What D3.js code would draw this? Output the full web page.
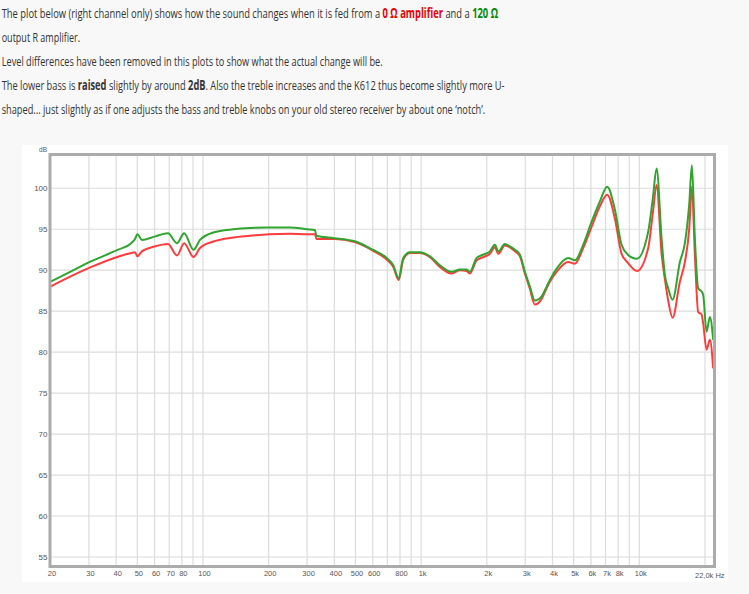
<!DOCTYPE html>
<html>
<head>
<meta charset="utf-8">
<script src="https://cdn.jsdelivr.net/npm/d3@7"></script>
<style>
  html, body { margin: 0; padding: 0; background: #f8f8f8; }
  svg { display: block; }
</style>
</head>
<body>
<svg id="chart" width="749" height="594"></svg>
<script>
// ---- data ----
const freqs = [20, 25, 30.8, 40.8, 46.9, 48.8, 50.0, 52.5, 60, 69.1, 76, 82, 90.5, 96.9, 111.5, 137.6, 164, 200, 250, 300, 326, 331, 400, 500, 600, 695, 745, 789, 828, 888, 987, 1097, 1219, 1380, 1505, 1616, 1673, 1796, 1925, 2066, 2178, 2256, 2421, 2552, 2690, 2836, 2990, 3152, 3323, 3566, 3760, 3892, 4178, 4722, 5068, 5531, 6043, 6598, 7125, 7727, 8296, 8866, 9750, 10986, 11541, 12004, 12652, 13100, 13564, 14210, 15348, 16180, 16932, 17420, 17978, 18618, 19296, 19626, 20338, 21064, 21814];
const green120 = [88.6, 89.9, 91.1, 92.5, 93.3, 93.8, 94.4, 93.7, 94.1, 94.5, 93.3, 94.5, 92.5, 93.7, 94.6, 95.0, 95.15, 95.2, 95.2, 95.0, 94.9, 94.2, 93.9, 93.5, 92.5, 91.5, 90.6, 89.0, 91.5, 92.2, 92.2, 91.7, 90.6, 89.8, 90.1, 90.1, 89.8, 91.5, 91.9, 92.3, 93.1, 92.3, 93.2, 92.9, 92.5, 91.9, 89.8, 88.0, 86.3, 86.8, 88.0, 88.8, 90.2, 91.5, 91.2, 93.1, 95.9, 98.4, 100.2, 97.4, 93.1, 91.9, 91.4, 94.7, 98.8, 102.4, 93.9, 89.4, 87.8, 86.4, 91.0, 93.3, 98.0, 102.8, 93.9, 87.8, 87.4, 87.0, 82.5, 84.3, 81.5];
const red0 = [88.0, 89.3, 90.4, 91.65, 92.1, 92.2, 91.7, 92.3, 92.9, 93.2, 91.8, 93.3, 91.6, 92.7, 93.5, 94.0, 94.2, 94.4, 94.45, 94.4, 94.4, 93.8, 93.8, 93.4, 92.4, 91.3, 90.4, 88.8, 91.3, 92.1, 92.1, 91.6, 90.4, 89.6, 90.0, 89.9, 89.6, 91.2, 91.6, 92.0, 92.8, 92.0, 93.0, 92.8, 92.3, 91.7, 89.6, 87.7, 85.8, 86.5, 87.8, 88.6, 89.8, 91.0, 90.8, 92.7, 95.3, 97.8, 99.2, 96.3, 92.0, 90.9, 89.9, 92.7, 97.0, 100.4, 92.0, 88.9, 86.3, 84.2, 88.6, 91.0, 95.0, 100.2, 91.9, 84.9, 84.6, 83.5, 80.3, 81.5, 78.0];

const yTicks = [55, 60, 65, 70, 75, 80, 85, 90, 95, 100];
const xGrid = [30, 40, 50, 60, 70, 80, 90, 100, 200, 300, 400, 500, 600, 700, 800, 900, 1000, 2000, 3000, 4000, 5000, 6000, 7000, 8000, 9000, 10000, 20000];
const xTickValues = [20, 30, 40, 50, 60, 70, 80, 100, 200, 300, 400, 500, 600, 800, 1000, 2000, 3000, 4000, 5000, 6000, 7000, 8000, 10000];
const xTickLabels = ["20", "30", "40", "50", "60", "70", "80", "100", "200", "300", "400", "500", "600", "800", "1k", "2k", "3k", "4k", "5k", "6k", "7k", "8k", "10k"];

const svg = d3.select("#chart");

// ---- intro text (each line horizontally scaled to the reference width) ----
const lines = [
  {y: 18, len: 497, parts: [
    {t: "The plot below (right channel only) shows how the sound changes when it is fed from a "},
    {t: "0 Ω amplifier", b: true, c: "#e60000"},
    {t: " and a "},
    {t: "120 Ω", b: true, c: "#008a00"}]},
  {y: 42, len: 78.5, parts: [{t: "output R amplifier."}]},
  {y: 66, len: 381.5, parts: [{t: "Level differences have been removed in this plots to show what the actual change will be."}]},
  {y: 90, len: 503, parts: [
    {t: "The lower bass is "}, {t: "raised", b: true}, {t: " slightly by around "}, {t: "2dB", b: true},
    {t: ". Also the treble increases and the K612 thus become slightly more U-"}]},
  {y: 114, len: 484, parts: [{t: "shaped... just slightly as if one adjusts the bass and treble knobs on your old stereo receiver by about one \u2018notch\u2019."}]}
];
lines.forEach(l => {
  const gl = svg.append("g");
  const tx = gl.append("text")
    .attr("x", 0).attr("y", 0)
    .style("font-family", "'Open Sans', sans-serif").style("font-size", "13.5px").style("fill", "#333");
  l.parts.forEach(p => {
    tx.append("tspan").text(p.t)
      .style("font-weight", p.b ? "bold" : "normal")
      .style("fill", p.c || "#333");
  });
  const w = tx.node().getComputedTextLength();
  gl.attr("transform", `translate(1.7,${l.y}) scale(${l.len / w},1)`);
});

// ---- chart panel ----
svg.append("rect").attr("x", 22).attr("y", 145).attr("width", 706).attr("height", 437).attr("fill", "#fff");

const L = 50.5, R = 714, T = 155, B = 566;
const x = d3.scaleLog().domain([20, 22000]).range([L, R]);
const y = d3.scaleLinear().domain([53.9, 104.06]).range([B, T]);

const g = svg.append("g");
// grid
g.selectAll("line.hg").data(yTicks).join("line")
  .attr("x1", L).attr("x2", R).attr("y1", d => y(d)).attr("y2", d => y(d))
  .attr("stroke", "#dcdcdc").attr("stroke-width", 1.2);
g.selectAll("line.vg").data(xGrid).join("line")
  .attr("x1", d => x(d)).attr("x2", d => x(d)).attr("y1", T).attr("y2", B)
  .attr("stroke", "#dcdcdc").attr("stroke-width", 1.2);

// curves
const line = d3.line().x(d => x(d[0])).y(d => y(d[1])).curve(d3.curveMonotoneX);
svg.append("clipPath").attr("id", "pc").append("rect")
  .attr("x", L).attr("y", T).attr("width", R - L).attr("height", B - T);
g.append("path").datum(freqs.map((f, i) => [f, red0[i]]))
  .attr("d", line).attr("fill", "none").attr("stroke", "#ff3c3c").attr("stroke-width", 2)
  .attr("stroke-linejoin", "round").attr("clip-path", "url(#pc)");
g.append("path").datum(freqs.map((f, i) => [f, green120[i]]))
  .attr("d", line).attr("fill", "none").attr("stroke", "#2fa52f").attr("stroke-width", 2)
  .attr("stroke-linejoin", "round").attr("clip-path", "url(#pc)");

// frame
g.append("rect").attr("x", L - 0.5).attr("y", T - 0.5).attr("width", R - L + 1).attr("height", B - T + 1)
  .attr("fill", "none").attr("stroke", "#ababab").attr("stroke-width", 3);

const axisFont = "Arial, 'Liberation Sans', sans-serif";
// y axis labels
const yAxis = d3.axisLeft(y).tickValues(yTicks).tickSize(0).tickPadding(0);
const ya = svg.append("g").attr("transform", `translate(47.5,0)`).call(yAxis);
ya.select(".domain").remove();
ya.selectAll("text").style("font-family", axisFont).style("font-size", "8px").style("fill", "#555");
svg.append("text").attr("x", 47).attr("y", 151.5).attr("text-anchor", "end")
  .style("font-family", axisFont).style("font-size", "6.5px").style("fill", "#555").text("dB");

// x axis labels
const xAxis = d3.axisBottom(x).tickValues(xTickValues).tickFormat((d, i) => xTickLabels[i]).tickSize(0).tickPadding(0);
const xa = svg.append("g").attr("transform", `translate(1,570.5)`).call(xAxis);
xa.select(".domain").remove();
xa.selectAll("text").attr("dy", "0.71em").style("font-family", axisFont).style("font-size", "7.5px").style("fill", "#555");
svg.append("text").attr("x", 695).attr("y", 578)
  .style("font-family", axisFont).style("font-size", "7.5px").style("fill", "#555").text("22,0k Hz");
</script>
</body>
</html>
